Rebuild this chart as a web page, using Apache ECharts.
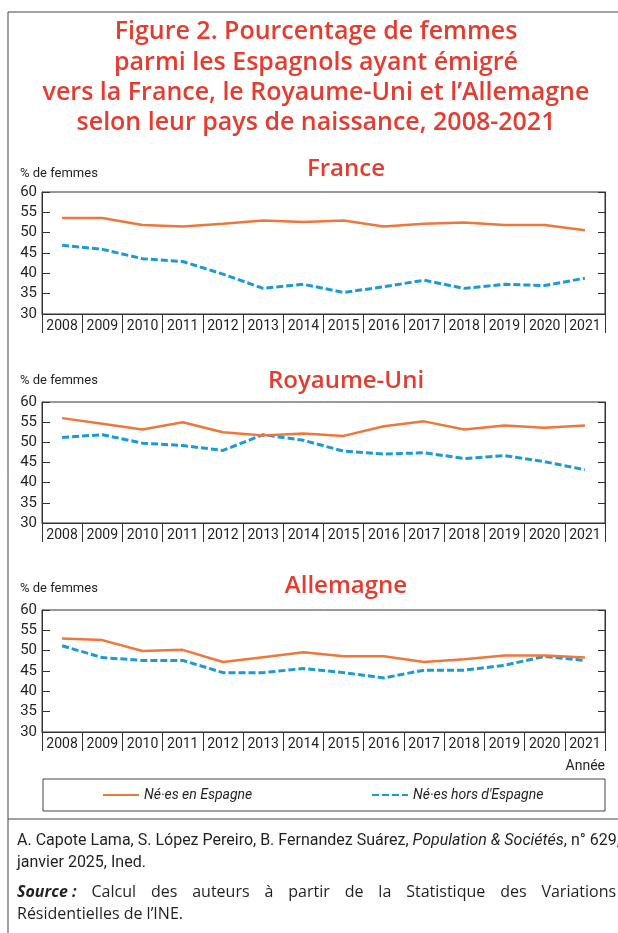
<!DOCTYPE html>
<html><head><meta charset="utf-8">
<script src="https://cdn.jsdelivr.net/npm/echarts@6/dist/echarts.min.js"></script>
<style>html,body{margin:0;padding:0;background:#fff}#c{width:618px;height:933px}</style>
</head><body><div id="c"></div>
<script>
const years = ['2008','2009','2010','2011','2012','2013','2014','2015','2016','2017','2018','2019','2020','2021'];
const yTicks = [30, 35, 40, 45, 50, 55, 60];
const panelNames = ['France', 'Royaume-Uni', 'Allemagne'];
const seriesNames = ['Né·es en Espagne', "Né·es hors d'Espagne"];
const franceEspagne = [53.6, 53.6, 51.9, 51.5, 52.2, 53.0, 52.6, 53.0, 51.5, 52.2, 52.5, 51.9, 51.9, 50.6];
const franceHors    = [46.9, 45.9, 43.6, 42.9, 39.8, 36.3, 37.3, 35.3, 36.7, 38.3, 36.3, 37.3, 37.0, 38.8];
const ruEspagne     = [56.0, 54.6, 53.2, 55.0, 52.5, 51.7, 52.2, 51.6, 54.0, 55.2, 53.2, 54.2, 53.6, 54.2];
const ruHors        = [51.2, 51.9, 49.8, 49.2, 48.0, 51.9, 50.5, 47.8, 47.1, 47.4, 46.0, 46.7, 45.2, 43.2];
const deEspagne     = [53.0, 52.6, 49.9, 50.2, 47.2, 48.4, 49.6, 48.6, 48.6, 47.2, 47.9, 48.8, 48.8, 48.3];
const deHors        = [51.2, 48.3, 47.6, 47.6, 44.6, 44.6, 45.6, 44.6, 43.3, 45.2, 45.2, 46.4, 48.6, 47.6];
const sourceWords = ['Calcul', 'des', 'auteurs', 'à', 'partir', 'de', 'la', 'Statistique', 'des', 'Variations'];

const RED = '#e63c2f', ORANGE = '#ef7739', BLUE = '#1a9ad6', INK = '#231f20';
const COND = 'Roboto, sans-serif';
const TITLEF = '"Open Sans", sans-serif';

const panels = [
  {esp: franceEspagne, hors: franceHors, top: 192, h: 122},
  {esp: ruEspagne, hors: ruHors, top: 402, h: 121},
  {esp: deEspagne, hors: deHors, top: 610, h: 122}
];

const grid = [], xAxis = [], yAxis = [], series = [];
panels.forEach((p, i) => {
  grid.push({left: 42, right: 13, top: p.top, height: p.h, show: true, borderColor: '#333', borderWidth: 1, backgroundColor: 'transparent'});
  xAxis.push({type: 'category', gridIndex: i, data: years, boundaryGap: true,
    axisLine: {lineStyle: {color: '#333', width: 1}},
    axisTick: {show: true, interval: 0, length: 19, lineStyle: {color: '#333'}},
    axisLabel: {interval: 0, margin: 5, color: INK, fontFamily: COND, fontSize: 14}});
  yAxis.push({type: 'value', gridIndex: i, min: yTicks[0], max: yTicks[yTicks.length-1], interval: 5, position: 'left',
    axisLine: {show: true, lineStyle: {color: '#333'}}, axisTick: {show: true, inside: true, length: 8, lineStyle: {color: '#333'}}, splitLine: {show: false},
    axisLabel: {margin: 5, color: INK, fontFamily: COND, fontSize: 15}});
  yAxis.push({type: 'value', gridIndex: i, min: yTicks[0], max: yTicks[yTicks.length-1], interval: 5, position: 'right',
    axisLine: {show: true, lineStyle: {color: '#333'}}, axisTick: {show: true, inside: true, length: 7, lineStyle: {color: '#333'}},
    splitLine: {show: false}, axisLabel: {show: false}});
  series.push({name: seriesNames[0], type: 'line', xAxisIndex: i, yAxisIndex: 2*i, data: p.esp, symbol: 'none',
    lineStyle: {color: ORANGE, width: 2.5}, itemStyle: {color: ORANGE}, z: 3});
  series.push({name: seriesNames[1], type: 'line', xAxisIndex: i, yAxisIndex: 2*i, data: p.hors, symbol: 'none',
    lineStyle: {color: BLUE, width: 3, type: [7, 3]}, itemStyle: {color: BLUE}, z: 2});
});

const titles = [
  {text: 'Figure 2. Pourcentage de femmes\nparmi les Espagnols ayant émigré\nvers la France, le Royaume-Uni et l’Allemagne\nselon leur pays de naissance, 2008-2021',
   left: 316, top: 17, textAlign: 'center', padding: 0,
   textStyle: {color: RED, fontFamily: TITLEF, fontWeight: 600, fontSize: 25, lineHeight: 30.3}},
];
const panelTitleY = [157, 369, 574];
panelNames.forEach((n, i) => titles.push({text: n, left: 346, top: panelTitleY[i], textAlign: 'center', padding: 0,
  textStyle: {color: RED, fontFamily: TITLEF, fontWeight: 600, fontSize: 24, lineHeight: 24}}));

// justified "Source" line: rich text with widened spaces
const srcText = '{b|Source :}{s| }' + sourceWords.join('{s| }');

const graphic = [
  {type: 'line', shape: {x1: 8, y1: 12, x2: 618, y2: 12}, style: {stroke: '#444', lineWidth: 1}},
  {type: 'line', shape: {x1: 8, y1: 12, x2: 8, y2: 933}, style: {stroke: '#444', lineWidth: 1}},
  {type: 'line', shape: {x1: 8, y1: 819, x2: 618, y2: 819}, style: {stroke: '#444', lineWidth: 1}},
  {type: 'rect', shape: {x: 43, y: 779, width: 562, height: 32}, style: {fill: 'none', stroke: '#444', lineWidth: 1}},
  {type: 'text', style: {text: 'Année', x: 605, y: 766, textAlign: 'right', textVerticalAlign: 'middle', fill: INK, font: '14px ' + COND}},
  {type: 'text', style: {text: 'A. Capote Lama, S. López Pereiro, B. Fernandez Suárez, {i|Population & Sociétés}, n° 629,', x: 17, y: 841, textVerticalAlign: 'middle', fill: INK, font: '16px ' + COND,
    rich: {i: {fontStyle: 'italic', fontFamily: COND, fontSize: 16, fill: INK}}}},
  {type: 'text', style: {text: 'janvier 2025, Ined.', x: 17, y: 863, textVerticalAlign: 'middle', fill: INK, font: '16px ' + COND}},
  {type: 'text', style: {text: srcText, x: 17, y: 892, textVerticalAlign: 'middle', fill: INK, font: '16px "Open Sans", sans-serif',
    rich: {b: {fontStyle: 'italic', fontWeight: 'bold', fontFamily: '"Open Sans", sans-serif', fontSize: 16, fill: INK},
           s: {width: 14.9, fontSize: 16, fontFamily: '"Open Sans", sans-serif'}}}},
  {type: 'text', style: {text: 'Résidentielles de l’INE.', x: 17, y: 914, textVerticalAlign: 'middle', fill: INK, font: '16px "Open Sans", sans-serif'}}
];
[174, 381, 589].forEach(y => graphic.push({type: 'text', style: {text: '% de femmes', x: 20, y: y, textVerticalAlign: 'middle', fill: INK, font: '13px ' + COND}}));

const chart = echarts.init(document.getElementById('c'), null, {renderer: 'canvas'});
const legendText = {fontFamily: COND, fontStyle: 'italic', fontSize: 14, color: INK};
chart.setOption({
  animation: false,
  backgroundColor: '#fff',
  title: titles,
  grid, xAxis, yAxis, series, graphic,
  legend: [
    {data: [seriesNames[0]], left: 97, top: 783, itemWidth: 36, itemHeight: 14, itemGap: 0,
     itemStyle: {opacity: 0}, textStyle: legendText, selectedMode: false},
    {data: [seriesNames[1]], left: 366, top: 783, itemWidth: 36, itemHeight: 14, itemGap: 0,
     itemStyle: {opacity: 0}, textStyle: legendText, selectedMode: false}
  ]
});
</script></body></html>
